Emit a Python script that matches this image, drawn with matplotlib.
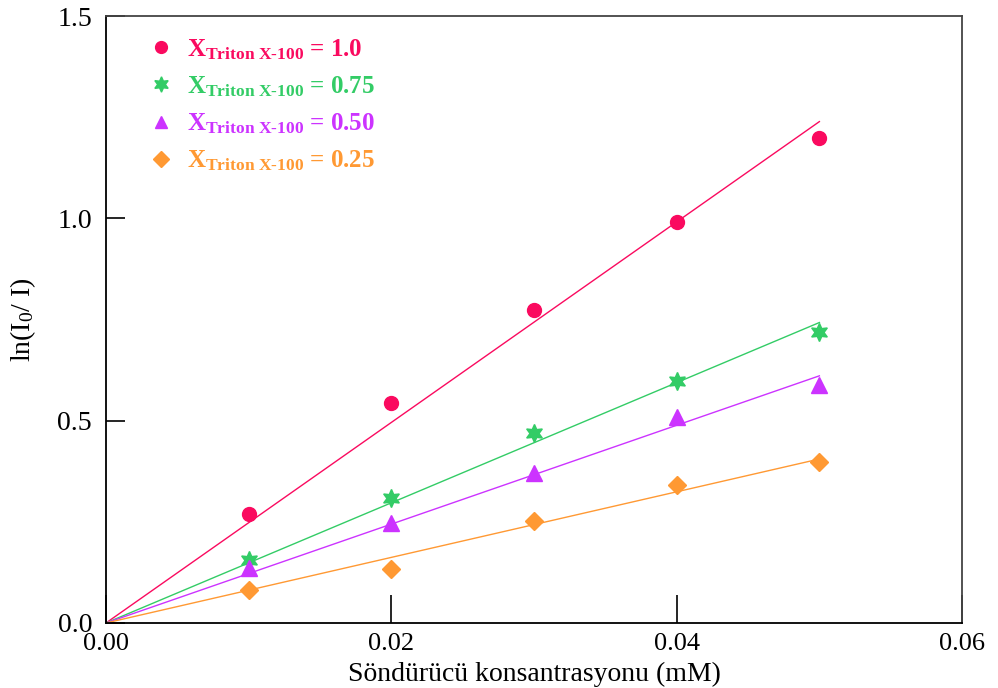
import numpy as np
import matplotlib
matplotlib.use("Agg")
import matplotlib.pyplot as plt

# Quencher concentration (mM)
conc = [0.01, 0.02, 0.03, 0.04, 0.05]

# ln(I0/I) for each Triton X-100 mole fraction
ln_x100 = [0.269, 0.544, 0.773, 0.991, 1.198]
ln_x075 = [0.156, 0.309, 0.469, 0.598, 0.719]
ln_x050 = [0.136, 0.247, 0.371, 0.509, 0.588]
ln_x025 = [0.082, 0.133, 0.252, 0.341, 0.398]

fractions = ["1.0", "0.75", "0.50", "0.25"]
series = [ln_x100, ln_x075, ln_x050, ln_x025]
colors = ["#fa0a5f", "#33cc66", "#cc33ff", "#ff9933"]
markers = ["o", (6, 1, 0), "^", "D"]
msizes = [10, 13, 11, 9]

plt.rcParams["font.family"] = ["Liberation Serif", "DejaVu Serif"]
plt.rcParams["mathtext.fontset"] = "custom"
plt.rcParams["mathtext.rm"] = "Liberation Serif"
plt.rcParams["mathtext.bf"] = "Liberation Serif:bold"
plt.rcParams["mathtext.it"] = "Liberation Serif:italic"

fig = plt.figure(figsize=(9.98, 6.88), dpi=100)
ax = fig.add_axes([0.1062, 0.0945, 0.8578, 0.8822])

x = np.array(conc)
xfit = np.array([0.0, 0.05])
for vals, col, mk, ms, fr in zip(series, colors, markers, msizes, fractions):
    y = np.array(vals)
    # least-squares line through the origin
    slope = np.sum(x * y) / np.sum(x * x)
    ax.plot(xfit, slope * xfit, color=col, lw=1.0, zorder=2)
    ax.plot(x, y, linestyle="none", marker=mk, ms=ms, color=col,
            markeredgecolor=col, zorder=3,
            label=r"$\mathbf{X}_{\mathbf{Triton\ X‐100}}$" + " = " + fr)

ax.set_xlim(0, 0.06)
ax.set_ylim(0, 1.5)
ax.set_xticks([0.0, 0.02, 0.04, 0.06])
ax.set_xticklabels(["0.00", "0.02", "0.04", "0.06"])
ax.set_yticks([0.0, 0.5, 1.0, 1.5])
ax.set_yticklabels(["0.0", "0.5", "1.0", "1.5"])
ax.tick_params(axis="x", direction="in", length=20, width=1.2,
               labelsize=19, pad=7)
ax.tick_params(axis="y", direction="in", length=14, width=1.2,
               labelsize=20, pad=10)

for side in ["left", "bottom"]:
    ax.spines[side].set_color("black")
    ax.spines[side].set_linewidth(1.3)
for side in ["top", "right"]:
    ax.spines[side].set_color("#444444")
    ax.spines[side].set_linewidth(1.3)

ax.set_xlabel("Söndürücü konsantrasyonu (mM)", fontsize=20)
ax.xaxis.set_label_coords(0.5, -0.064)
ax.set_ylabel(r"ln(I$_0$/ I)", fontsize=20, labelpad=14)

leg = ax.legend(loc="upper left", frameon=False,
                prop={"weight": "bold", "size": 18, "family": "Liberation Serif"},
                labelcolor="markerfacecolor", handletextpad=0.3,
                labelspacing=0.5, borderaxespad=0.2,
                bbox_to_anchor=(0.025, 0.99), markerscale=0.85,
                handlelength=1.5)

fig.savefig("out.png", dpi=100)
